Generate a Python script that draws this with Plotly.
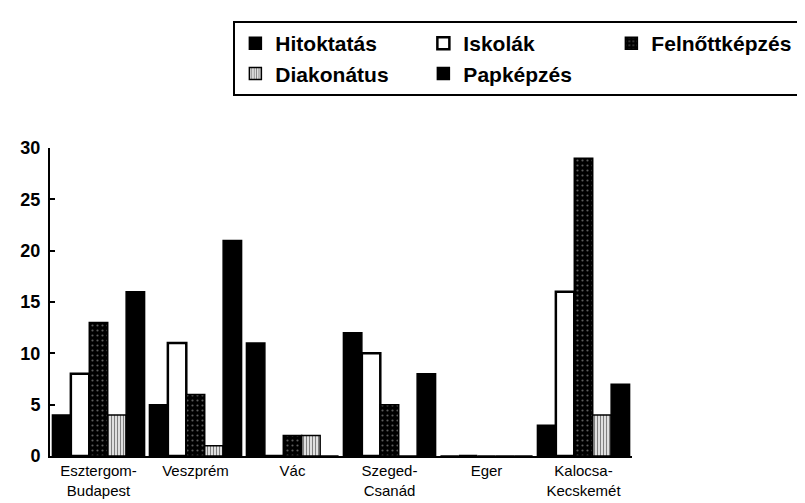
import plotly.graph_objects as go

categories = ["Esztergom-<br>Budapest", "Veszprém", "Vác", "Szeged-<br>Csanád", "Eger", "Kalocsa-<br>Kecskemét"]
hitoktatas = [4, 5, 11, 12, 0, 3]
iskolak = [8, 11, 0, 10, 0, 16]
felnottkepzes = [13, 6, 2, 5, 0, 29]
diakonatus = [4, 1, 2, 0, 0, 4]
papkepzes = [16, 21, 0, 8, 0, 7]
y_ticks = [0, 5, 10, 15, 20, 25, 30]

FONT = "Liberation Sans, Arial, sans-serif"

fig = go.Figure()
fig.add_bar(name="Hitoktatás", x=categories, y=hitoktatas,
            marker=dict(color="black", line=dict(color="black", width=1.5)))
fig.add_bar(name="Iskolák", x=categories, y=iskolak,
            marker=dict(color="white", line=dict(color="black", width=2.5)))
fig.add_bar(name="Felnőttképzés", x=categories, y=felnottkepzes,
            marker=dict(color="black", line=dict(color="black", width=1.5),
                        pattern=dict(shape=".", fgcolor="#bbbbbb", bgcolor="black", size=5, solidity=0.15)))
fig.add_bar(name="Diakonátus", x=categories, y=diakonatus,
            marker=dict(color="white", line=dict(color="black", width=1.5),
                        pattern=dict(shape="|", fgcolor="black", bgcolor="white", size=3, solidity=0.5)))
fig.add_bar(name="Papképzés", x=categories, y=papkepzes,
            marker=dict(color="black", line=dict(color="black", width=1.5)))

PLOT_L, PLOT_R, PLOT_T, PLOT_B = 40, 697, 140, 458
W, H = 805, 503
pw, ph = PLOT_R - PLOT_L, PLOT_B - PLOT_T

fig.update_layout(
    width=W, height=H,
    margin=dict(l=PLOT_L, r=W - PLOT_R, t=PLOT_T, b=H - PLOT_B, pad=0),
    paper_bgcolor="white", plot_bgcolor="white",
    barmode="group", bargap=0.05, bargroupgap=0,
    font=dict(family=FONT, color="black"),
    legend=dict(
        orientation="h", x=(247 - PLOT_L) / pw, y=(PLOT_B - 9) / ph,
        xanchor="left", yanchor="top",
        entrywidth=143, entrywidthmode="pixels",
        bordercolor="black", borderwidth=2, bgcolor="white",
        font=dict(family=FONT, size=21, color="black", weight="bold"),
        traceorder="normal",
    ),
    xaxis=dict(
        range=[-0.5, 5.5], showline=True, linecolor="black", linewidth=2,
        ticks="", showgrid=False, tickfont=dict(family=FONT, size=15, color="black"),
    ),
    yaxis=dict(
        range=[0, 30], tickvals=y_ticks, showline=True, linecolor="black", linewidth=2,
        ticks="inside", ticklen=5, tickwidth=2, tickcolor="black", showgrid=False, zeroline=False,
        ticklabelstandoff=4,
        tickfont=dict(family=FONT, size=18, color="black", weight="bold"),
    ),
)

fig.write_html("out.html")
